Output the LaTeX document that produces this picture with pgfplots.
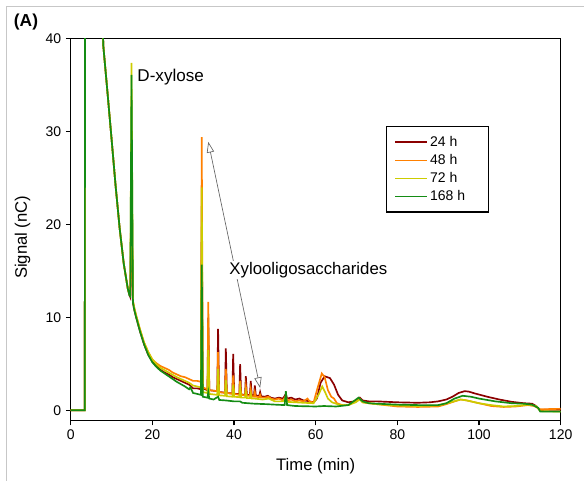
\documentclass[border=0pt]{standalone}
\usepackage{pgfplots}
\pgfplotsset{compat=1.18}
\usepackage{fontspec}
\setmainfont{Liberation Sans}
\usetikzlibrary{arrows.meta}
\definecolor{c24}{RGB}{139,0,0}
\definecolor{c48}{RGB}{255,128,0}
\definecolor{c72}{RGB}{204,204,0}
\definecolor{c168}{RGB}{20,140,20}
\newcommand{\legtxt}[1]{\makebox[36pt][l]{#1}}
\begin{document}
\begin{tikzpicture}
\begin{axis}[
  at={(0,0)}, anchor=south west,
  width=367.5pt, height=286.5pt, scale only axis,
  xmin=0, xmax=120, ymin=-1.075, ymax=40,
  xtick={0,20,40,60,80,100,120}, ytick={0,10,20,30,40},
  xtick pos=bottom, ytick pos=left,
  tick align=outside, major tick length=3.6pt,
  axis line style={line width=1pt},
  tick style={line width=0.8pt, black},
  /pgf/number format/assume math mode=true,
  tick label style={font=\fontsize{10.5}{12}\selectfont},
  xlabel={Time (min)}, ylabel={Signal (nC)},
  label style={font=\fontsize{12.5}{15}\selectfont},
  xlabel style={at={([yshift=-34pt]axis description cs:0.5,0)}, anchor=center},
  ylabel style={at={([xshift=-36pt]axis description cs:0,0.48)}, anchor=center},
  legend style={at={(0.643,0.771)}, anchor=north west, draw=black, line width=0.9pt,
    font=\fontsize{10.5}{12}\selectfont, inner xsep=6pt, inner ysep=5pt, row sep=0.5pt,
    nodes={inner sep=2pt}},
  legend cell align=left,
  legend image code/.code={\draw[#1, line width=1.1pt] (0pt,0pt) -- (23.7pt,0pt);},
  every axis plot/.append style={line width=1.25pt},
]
\addplot[c24] coordinates {(0,0.05) (3.45,0.05) (3.55,60) (7.6,45) (8,39.2) (9,34.3) (10,29.3) (11,24.2) (12,19.6) (13,15.8) (14,13.1) (14.4,12.4) (14.6,12.2) (14.9,22) (15.25,11.6) (15.6,10.8) (16,10.1) (17,8.5) (18,7.1) (19,6.0) (20,5.3) (21,4.8) (22,4.4) (23,4.1) (24,3.9) (25,3.6) (26,3.4) (27,3.2) (28,3.0) (29,2.8) (29.5,2.6) (30,2.4) (31,2.4) (31.9,2.3) (32.1,22) (32.35,2.4) (33.5,2.2) (33.7,10) (33.95,2.2) (35.9,2.1) (36.1,8.8) (36.35,2.0) (37.8,1.95) (38.0,6.7) (38.25,1.9) (39.6,1.85) (39.8,6.1) (40.05,1.8) (41.3,1.8) (41.5,5.0) (41.75,1.75) (42.7,1.7) (42.9,3.7) (43.15,1.7) (43.9,1.7) (44.1,3.2) (44.35,1.65) (44.9,1.65) (45.1,2.7) (45.35,1.6) (46.2,1.6) (46.4,2.0) (46.65,1.55) (47.5,1.5) (48.3,1.6) (49,1.4) (50,1.3) (51,1.4) (52,1.3) (52.7,1.8) (53,1.3) (54,1.4) (55,1.2) (56,1.3) (57,1.1) (58,1.05) (59.5,0.9) (60.3,1.3) (61.2,3.0) (62.2,3.7) (63.5,3.5) (64.5,2.8) (65.5,1.7) (66.5,1.1) (68,0.9) (69.5,1.0) (70.8,1.4) (71.5,1.1) (73,1.0) (75,1.0) (80,0.9) (85,0.85) (88,0.9) (90,1.0) (92,1.2) (93.5,1.5) (95,1.9) (96.5,2.1) (97.5,2.05) (99,1.85) (102,1.5) (105,1.2) (108,0.95) (111,0.8) (113,0.75) (114,0.5) (115,0.0) (116,0.1) (120,0.1)};
\addlegendentry{\legtxt{24 h}}
\addplot[c48] coordinates {(0,0.05) (3.45,0.05) (3.55,60) (7.6,45) (8,39.2) (9,34.3) (10,29.3) (11,24.2) (12,19.6) (13,15.8) (14,13.1) (14.4,12.5) (14.6,12.4) (14.9,27.3) (15.25,11.8) (15.6,11) (16,10.3) (17,8.7) (18,7.3) (19,6.3) (20,5.5) (21,5.1) (22,4.8) (23,4.6) (24,4.4) (25,4.1) (26,3.9) (27,3.7) (28,3.6) (29,3.4) (30,3.2) (31,3.2) (31.9,3.1) (32.1,29.4) (32.35,2.5) (33.5,2.3) (33.7,11.7) (33.95,2.2) (35.9,2.1) (36.1,6.3) (36.35,2.0) (37.8,1.9) (38.0,4.5) (38.25,1.9) (39.6,1.8) (39.8,3.8) (40.05,1.8) (41.3,1.7) (41.5,3.2) (41.75,1.7) (42.7,1.65) (42.9,2.6) (43.15,1.6) (43.9,1.6) (44.1,2.3) (44.35,1.55) (44.9,1.5) (45.1,2.0) (45.35,1.5) (46.2,1.45) (46.4,1.7) (46.65,1.4) (47.5,1.4) (48.5,1.5) (49,1.3) (50,1.2) (51,1.3) (52,1.1) (52.7,1.6) (53,1.1) (54,1.2) (55,1.0) (56,1.1) (57,1.0) (58,1.3) (58.6,0.95) (59.5,0.9) (60.5,2.5) (61.5,4.0) (62.2,3.6) (63,2.2) (63.8,1.5) (64.5,1.3) (65.2,0.8) (66.5,0.6) (68,0.6) (69.8,1.0) (70.8,1.3) (71.5,0.9) (73,0.8) (75,0.7) (80,0.45) (85,0.4) (90,0.45) (92,0.7) (94,1.0) (95.5,1.2) (97,1.1) (100,0.8) (103,0.5) (106,0.4) (109,0.45) (112,0.6) (113.5,0.5) (115,0.15) (120,0.2)};
\addlegendentry{\legtxt{48 h}}
\addplot[c72] coordinates {(0,0.05) (3.45,0.05) (3.55,60) (7.6,45) (8,39.2) (9,34.3) (10,29.3) (11,24.2) (12,19.6) (13,15.8) (14,13.1) (14.4,12.5) (14.6,12.4) (14.9,37.4) (15.25,11.8) (15.6,11) (16,10.3) (17,8.7) (18,7.3) (19,6.3) (20,5.5) (21,5.0) (22,4.6) (23,4.35) (24,4.1) (25,3.85) (26,3.6) (27,3.4) (28,3.2) (29,3.0) (30,2.7) (31,2.6) (31.9,2.5) (32.1,24) (32.35,2.0) (33.5,1.9) (33.7,6.5) (33.95,1.8) (35.9,1.7) (36.1,4.5) (36.35,1.65) (37.8,1.6) (38.0,3.3) (38.25,1.55) (39.6,1.5) (39.8,2.8) (40.05,1.5) (41.3,1.45) (41.5,2.4) (41.75,1.4) (42.7,1.4) (42.9,2.0) (43.15,1.35) (43.9,1.35) (44.1,1.8) (44.35,1.3) (45,1.3) (47,1.2) (48.5,1.3) (50,1.0) (52,1.0) (52.7,1.5) (53,0.95) (55,0.9) (57,0.85) (59.5,0.8) (60.8,1.8) (61.6,2.6) (62.3,2.0) (63,1.3) (64,0.9) (66,0.6) (68,0.6) (69.8,0.9) (70.8,1.2) (71.5,0.9) (75,0.7) (80,0.55) (85,0.5) (90,0.55) (93,0.9) (95.5,1.2) (97,1.1) (100,0.8) (103,0.6) (106,0.45) (109,0.5) (112,0.65) (114,0.5) (115,-0.05) (120,-0.1)};
\addlegendentry{\legtxt{72 h}}
\addplot[c168] coordinates {(0,0.05) (3.45,0.05) (3.55,60) (7.6,45) (8,39.2) (9,34.3) (10,29.3) (11,24.2) (12,19.6) (13,15.8) (14,13.1) (14.4,12.4) (14.6,12.3) (14.9,36.1) (15.25,11.6) (15.6,10.8) (16,10.1) (17,8.5) (18,7.1) (19,6.0) (20,5.2) (21,4.7) (22,4.3) (23,4.0) (24,3.7) (25,3.4) (26,3.1) (27,2.85) (28,2.6) (29,2.3) (29.3,2.5) (30,1.9) (31,1.8) (31.9,1.7) (32.1,15.7) (32.35,1.5) (33.5,1.4) (33.7,2.0) (33.95,1.3) (35,1.2) (36.1,1.5) (36.4,1.15) (38,1.1) (40,1.0) (41.5,1.0) (42,0.85) (45,0.75) (48,0.7) (50,0.65) (52.4,0.6) (52.7,2.1) (53,0.6) (55,0.5) (60,0.45) (62,0.5) (65,0.45) (68,0.6) (70.5,1.4) (71.5,1.0) (73,0.8) (75,0.75) (80,0.65) (85,0.6) (90,0.6) (92,0.8) (94,1.3) (96,1.6) (98,1.5) (100,1.3) (104,1.0) (108,0.8) (111,0.75) (113,0.65) (114.5,0.3) (115,-0.1) (120,-0.1)};
\addlegendentry{\legtxt{168 h}}
\draw[black!60, line width=0.5pt, {Triangle[open,fill=white,length=8pt,width=5.5pt]}-{Triangle[open,fill=white,length=8pt,width=5.5pt]}] (axis cs:33.7,28.9) -- (axis cs:46.4,2.44);
\node[fill=white, anchor=west, inner sep=1pt, font=\fontsize{12.6}{15}\selectfont] at (axis cs:38.5,15.1) {Xylooligosaccharides};
\node[anchor=west, inner sep=0pt, font=\fontsize{12.8}{15}\selectfont] at (axis cs:16.3,35.9) {D-xylose};
\end{axis}
\draw[black!22, line width=0.8pt] (-47.8pt,-50pt) -- (-47.8pt,310.3pt) -- (390pt,310.3pt);
\node[font=\bfseries\fontsize{13}{15}\selectfont, inner sep=0pt] at (-33.5pt,299pt) {(A)};
\pgfresetboundingbox
\useasboundingbox (-53pt,-45.2pt) rectangle (385pt,315.5pt);
\end{tikzpicture}
\end{document}
